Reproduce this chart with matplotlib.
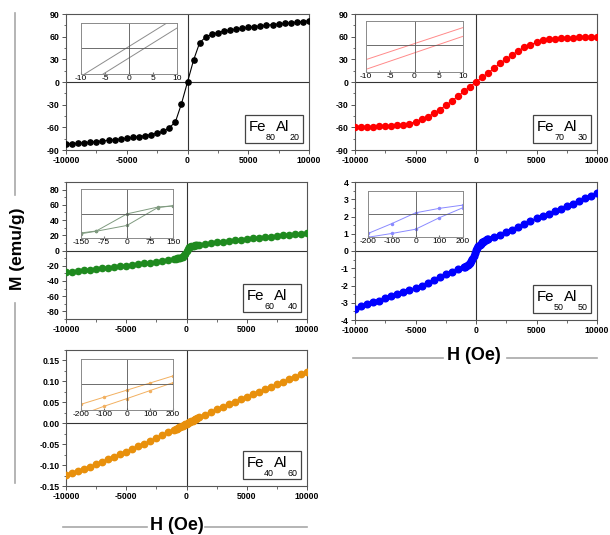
import matplotlib
matplotlib.use("Agg")
import matplotlib.pyplot as plt
from matplotlib.ticker import MultipleLocator, FormatStrFormatter
from matplotlib.lines import Line2D
from matplotlib.patches import Rectangle

plt.rcParams["font.family"] = ["Liberation Sans", "DejaVu Sans"]
plt.rcParams["axes.unicode_minus"] = False

# field grid (Oe)
h_coarse = [-10000, -9500, -9000, -8500, -8000, -7500, -7000, -6500, -6000, -5500,
            -5000, -4500, -4000, -3500, -3000, -2500, -2000, -1500, -1000, -500, 0,
            500, 1000, 1500, 2000, 2500, 3000, 3500, 4000, 4500, 5000,
            5500, 6000, 6500, 7000, 7500, 8000, 8500, 9000, 9500, 10000]
h_dense = [-10000, -9500, -9000, -8500, -8000, -7500, -7000, -6500, -6000, -5500,
           -5000, -4500, -4000, -3500, -3000, -2500, -2000, -1500, -1000,
           -900, -800, -700, -600, -500, -400, -300, -200, -100, 0,
           100, 200, 300, 400, 500, 600, 700, 800, 900,
           1000, 1500, 2000, 2500, 3000, 3500, 4000, 4500, 5000,
           5500, 6000, 6500, 7000, 7500, 8000, 8500, 9000, 9500, 10000]

m_fe80 = [-82, -81.5, -81, -80.3, -79.6, -78.8, -78, -77.2, -76.3, -75.4,
          -74.4, -73.3, -72.2, -71, -69.5, -67.8, -65.5, -60.5, -53, -29, 0,
          29, 52, 59.5, 63, 65.5, 67.3, 68.8, 70, 71.2, 72.3,
          73.3, 74.2, 75.1, 76, 76.8, 77.6, 78.4, 79.2, 80, 81]
m_fe70 = [-59.7, -59.5, -59.2, -59, -58.7, -58.3, -57.8, -57, -56.5, -55,
          -52.5, -49.5, -46, -41.5, -36.5, -31, -25, -19, -12.5, -6, 0,
          6, 12, 18.4, 25, 30.3, 36, 41.4, 45.8, 49.3, 52.4,
          56, 56.8, 57.3, 57.7, 58.2, 58.6, 58.9, 59.1, 59.3, 59.5]
m_fe60 = [-28.4, -27.6, -26.8, -26, -25.2, -24.3, -23.4, -22.5, -21.6, -20.7,
          -19.8, -19, -18, -17, -16, -15, -13.8, -12.5, -11,
          -10.8, -10.5, -10.2, -9.9, -9.5, -9, -8, -6.5, -4, -1,
          2.5, 4, 4.8, 5.3, 5.8, 6.2, 6.6, 7, 7.3,
          7.5, 9, 10, 11, 11.8, 12.6, 13.4, 14.2, 15,
          15.8, 16.6, 17.4, 18.2, 19, 19.8, 20.6, 21.4, 22.1, 22.8]
m_fe50 = [-3.35, -3.18, -3.08, -2.98, -2.87, -2.75, -2.62, -2.5, -2.4, -2.28,
          -2.15, -2.0, -1.85, -1.68, -1.5, -1.35, -1.2, -1.07, -0.95,
          -0.9, -0.85, -0.8, -0.75, -0.7, -0.6, -0.45, -0.3, -0.1, 0.05,
          0.18, 0.28, 0.36, 0.43, 0.5, 0.55, 0.6, 0.64, 0.68,
          0.72, 0.82, 0.95, 1.08, 1.22, 1.37, 1.55, 1.73, 1.9,
          2.02, 2.14, 2.3, 2.45, 2.6, 2.75, 2.9, 3.05, 3.2, 3.35]
m_fe40 = [-0.124, -0.119, -0.114, -0.109, -0.104, -0.098, -0.092, -0.086, -0.080, -0.074,
          -0.068, -0.062, -0.055, -0.049, -0.042, -0.035, -0.029, -0.022, -0.016,
          -0.0145, -0.013, -0.0115, -0.010, -0.0085, -0.007, -0.0055, -0.004, -0.0025, -0.001,
          0.0005, 0.002, 0.0035, 0.005, 0.0065, 0.008, 0.0095, 0.011, 0.0125,
          0.014, 0.020, 0.027, 0.033, 0.039, 0.045, 0.051, 0.057, 0.063,
          0.069, 0.075, 0.081, 0.087, 0.093, 0.099, 0.105, 0.111, 0.117, 0.123]

# composition labels: (element, subscript) pairs
comp_fe80 = [("Fe", "80"), ("Al", "20")]
comp_fe70 = [("Fe", "70"), ("Al", "30")]
comp_fe60 = [("Fe", "60"), ("Al", "40")]
comp_fe50 = [("Fe", "50"), ("Al", "50")]
comp_fe40 = [("Fe", "40"), ("Al", "60")]

# inset loops (relative units, y axis unlabeled)
ins1_h = [-10, 10]
ins1_up = [-1.12, 1.25]
ins1_lo = [-1.58, 0.80]
ins2_h = [-10, 10]
ins2_up = [-0.59, 0.73]
ins2_lo = [-0.99, 0.37]
ins3_h = [-150, -100, 0, 100, 150]
ins3_up = [-0.75, -0.67, 0.01, 0.28, 0.33]
ins3_lo = [-0.78, -0.68, -0.45, 0.26, 0.33]
ins4_h = [-200, -100, 0, 100, 200]
ins4_up = [-0.81, -0.39, 0.07, 0.26, 0.40]
ins4_lo = [-0.97, -0.81, -0.63, -0.14, 0.29]
ins5_h = [-200, -100, 0, 100, 200]
ins5_up = [-0.82, -0.535, -0.25, 0.035, 0.32]
ins5_lo = [-1.24, -0.90, -0.59, -0.27, 0.05]

W, H = 610, 535
fig = plt.figure(figsize=(6.1, 5.35), dpi=100)
renderer = fig.canvas.get_renderer()


def px_axes(x0, y0, x1, y1):
    return fig.add_axes([x0 / W, 1 - y1 / H, (x1 - x0) / W, (y1 - y0) / H])


def fig_text(x, y, s, **kw):
    # x, y in pixels from the top-left corner
    return fig.text(x / W, 1 - y / H, s, **kw)


def formula_box(right, bottom, parts):
    # lay out element + subscript pieces, then frame them
    pieces = []
    for el, sub in parts:
        pieces.append((el, 10.8, 0))
        pieces.append((sub, 6.4, 8.6))
    widths = []
    for s, fs, _ in pieces:
        t = fig.text(0, 0, s, fontsize=fs)
        widths.append(t.get_window_extent(renderer).width)
        t.remove()
    pad = 3.5
    box_w = sum(widths) + 2 * pad
    box_h = 27.5
    left = right - box_w
    base = bottom - 2.5 - 8.6
    x = left + pad
    for (s, fs, dy), w in zip(pieces, widths):
        fig_text(x, base + dy, s, fontsize=fs, va="baseline", ha="left", zorder=6)
        x += w
    fig.add_artist(Rectangle((left / W, 1 - bottom / H), box_w / W, box_h / H,
                             transform=fig.transFigure, fc="white", ec="#444444",
                             lw=0.9, zorder=5))


def main_panel(box, h, m, color, ylim, major, minor, comp, fmt=None, ms=4.2):
    ax = px_axes(*box)
    ax.plot(h, m, "-o", color=color, lw=0.8, ms=ms, mec=color, zorder=3)
    ax.axhline(0, color="#333333", lw=0.8, zorder=1)
    ax.axvline(0, color="#333333", lw=0.8, zorder=1)
    ax.set_xlim(-10000, 10000)
    ax.set_ylim(*ylim)
    ax.set_xticks([-10000, -5000, 0, 5000, 10000])
    ax.xaxis.set_minor_locator(MultipleLocator(2500))
    ax.yaxis.set_major_locator(MultipleLocator(major))
    ax.yaxis.set_minor_locator(MultipleLocator(minor))
    if fmt:
        ax.yaxis.set_major_formatter(FormatStrFormatter(fmt))
    ax.tick_params(which="both", direction="out", color="#555555", pad=1.5)
    ax.tick_params(which="major", length=3, width=0.7, labelsize=6.3)
    ax.tick_params(which="minor", length=1.8, width=0.6)
    for t in ax.get_xticklabels() + ax.get_yticklabels():
        t.set_fontweight("bold")
    for s in ax.spines.values():
        s.set_color("#555555")
        s.set_linewidth(0.8)
    formula_box(box[2] - 6, box[3] - 7.5, comp)
    return ax


def inset(box, h, up, lo, color, xlim, xticks, ylim, marker=None):
    ax = px_axes(*box)
    kw = dict(color=color, lw=0.7)
    if marker:
        kw.update(marker=marker, ms=1.5)
    ax.plot(h, up, **kw)
    ax.plot(h, lo, **kw)
    ax.axhline(0, color="#555555", lw=0.6)
    ax.axvline(0, color="#555555", lw=0.6)
    ax.set_xlim(*xlim)
    ax.set_ylim(*ylim)
    ax.set_xticks(xticks)
    ax.set_yticks([])
    ax.tick_params(axis="x", direction="in", length=1.5, labelsize=6, pad=0.5,
                   color="#777777")
    for s in ax.spines.values():
        s.set_color("#8a8a8a")
        s.set_linewidth(0.7)
    return ax


main_panel((66, 14, 309, 150), h_coarse, m_fe80, "black", (-90, 90), 30, 15,
           comp_fe80, ms=3.8)
main_panel((355, 14, 597, 150), h_coarse, m_fe70, "#ff0000", (-90, 90), 30, 15,
           comp_fe70, ms=4.3)
main_panel((66, 182, 307, 319), h_dense, m_fe60, "#1f8a1f", (-90, 90), 20, 10,
           comp_fe60, ms=4.5)
main_panel((355, 182, 597, 320), h_dense, m_fe50, "#0000ff", (-4, 4), 1, 0.5,
           comp_fe50, ms=4.8)
main_panel((66, 350, 307, 486), h_dense, m_fe40, "#e8900c", (-0.15, 0.175), 0.05, 0.025,
           comp_fe40, fmt="%.2f", ms=4.6)

inset((81, 23, 177, 74), ins1_h, ins1_up, ins1_lo, "#8c8c8c", (-10, 10),
      [-10, -5, 0, 5, 10], (-1.03, 1.0))
inset((366, 21, 463, 72), ins2_h, ins2_up, ins2_lo, "#ff8a8a", (-10, 10),
      [-10, -5, 0, 5, 10], (-1.1, 1.0))
inset((81, 189, 173, 238), ins3_h, ins3_up, ins3_lo, "#7f9a7f", (-150, 150),
      [-150, -75, 0, 75, 150], (-0.95, 1.0), marker="o")
inset((368, 191, 463, 237), ins4_h, ins4_up, ins4_lo, "#8a8aff", (-200, 200),
      [-200, -100, 0, 100, 200], (-0.96, 1.0), marker="o")
inset((81, 359, 173, 410), ins5_h, ins5_up, ins5_lo, "#f2b060", (-200, 200),
      [-200, -100, 0, 100, 200], (-1.05, 1.0), marker="o")

# axis titles with gray rules
grey = "#a8a8a8"


def hline(x0, x1, y):
    fig.add_artist(Line2D([x0 / W, x1 / W], [1 - y / H, 1 - y / H], color=grey, lw=1.2))


def vline(x, y0, y1):
    fig.add_artist(Line2D([x / W, x / W], [1 - y0 / H, 1 - y1 / H], color=grey, lw=1.2))


fig_text(18, 249, "M (emu/g)", rotation=90, ha="center", va="center",
         fontsize=12.5, fontweight="bold")
vline(15, 13, 195)
vline(15, 303, 483)

fig_text(177, 525, "H (Oe)", ha="center", va="center", fontsize=13, fontweight="bold")
hline(63, 147, 527)
hline(205, 307, 527)

fig_text(474, 356, "H (Oe)", ha="center", va="center", fontsize=13, fontweight="bold")
hline(353, 443, 358)
hline(507, 597, 358)

fig.savefig("out.png", dpi=100)
